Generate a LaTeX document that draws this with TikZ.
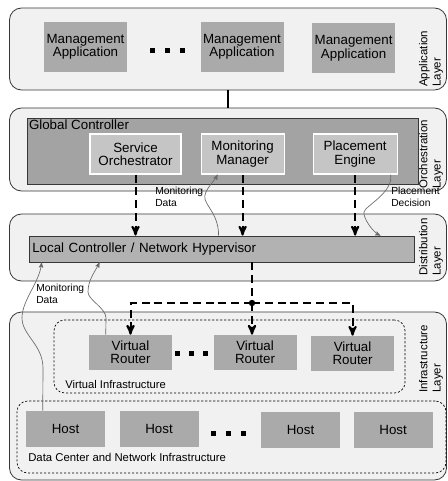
\documentclass[tikz,border=0pt]{standalone}
\usepackage{fontspec}
\setmainfont{Liberation Sans}
\usetikzlibrary{positioning, calc}
\usetikzlibrary{arrows}

\begin{document}
\begin{tikzpicture}[x=0.75pt, y=-0.75pt, >=stealth', align=center,
        font=\fontsize{10}{10}\selectfont,
        layer/.style={draw=layerdraw, fill=layerfill, rounded corners=9pt, line width=0.6pt, minimum width=327.75pt, inner sep=0pt},
        graybox/.style={fill=boxgray, inner sep=0pt},
        subbox/.style={fill=subgray, draw=white, line width=0.8pt, minimum width=62.25pt, minimum height=30pt, inner sep=0pt},
        region/.style={draw, rounded corners=8pt, line width=0.5pt, dash pattern=on 1.6pt off 1.4pt, inner sep=0pt},
        layername/.style={rotate=90, anchor=west, align=left, inner sep=0pt, font=\fontsize{8.6}{9.8}\selectfont},
        note/.style={anchor=north west, align=left, inner sep=0pt, font=\fontsize{7.7}{8.6}\selectfont},
        bus/.style={line width=1.5pt, dash pattern=on 6pt off 3.6pt},
        feedback/.style={->, draw=curvegray, line width=0.5pt}]
        % Define colors
        \definecolor{layerfill}{RGB}{241,241,241}
        \definecolor{layerdraw}{RGB}{55,55,55}
        \definecolor{boxgray}{RGB}{170,170,170}
        \definecolor{ctrlgray}{RGB}{163,163,163}
        \definecolor{subgray}{RGB}{197,197,197}
        \definecolor{lcgray}{RGB}{178,178,178}
        \definecolor{curvegray}{RGB}{105,105,105}

        \useasboundingbox (0,0) rectangle (447,481);

        % Layers
        \node[layer, minimum height=61.5pt] (apl) at (228,49) {};
        \node[layer, minimum height=62.25pt] (orl) at (228,149.5) {};
        \node[layer, minimum height=50.25pt] (dil) at (228,247.5) {};
        \node[layer, minimum height=126pt] (inl) at (228,396) {};

        \node[layername] (aplname) at (431,87) {Application\\Layer};
        \node[layername] (orlname) at (431,189) {Orchestration\\Layer};
        \node[layername] (dilname) at (431,276) {Distribution\\Layer};
        \node[layername] (inlname) at (431,393) {Infrastructure\\Layer};

        % Application layer
        \node[graybox, minimum width=62.25pt, minimum height=37.5pt] (app1) at (85.5,47) {Management\\Application};
        \node[graybox, minimum width=62.25pt, minimum height=37.5pt, right=54.75pt of app1] (app2) {Management\\Application};
        \node[graybox, minimum width=62.25pt, minimum height=37.5pt, right=21pt of app2, yshift=-1pt] (app3) {Management\\Application};
        \foreach \dx in {25,40,55} {
            \fill ($(app1.east)+(\dx,4)$) +(-2.5,-2.5) rectangle +(2.5,2.5);
        }

        % Orchestration layer
        \node[draw=layerdraw, fill=ctrlgray, line width=0.6pt, minimum width=293.25pt, minimum height=49.5pt] (gc) at (222.5,151) {};
        \node[anchor=north west, inner sep=1.6pt] (gcname) at (gc.north west) {Global Controller};
        \node[subbox, minimum width=68.25pt] (so) at (135.5,154) {Service\\Orchestrator};
        \node[subbox, right=14.25pt of so] (mm) {Monitoring\\Manager};
        \node[subbox, minimum width=63pt, right=21pt of mm] (pe) {Placement\\Engine};

        % Distribution layer
        \node[draw=layerdraw, fill=lcgray, line width=0.6pt, minimum width=288.75pt, minimum height=19.5pt, inner xsep=2.5pt, text width=283.75pt, align=left] (lc) at (221.5,249) {Local Controller / Network Hypervisor};

        % Infrastructure layer
        \node[region, minimum width=263.25pt, minimum height=54.75pt] (vi) at (229.5,356.5) {};
        \node[anchor=west, inner sep=0pt, font=\fontsize{8.4}{9}\selectfont] (viname) at (65,384) {Virtual Infrastructure};
        \node[graybox, minimum width=62.25pt, minimum height=26.25pt] (vr1) at (130.5,352.5) {Virtual\\Router};
        \node[graybox, minimum width=62.25pt, minimum height=26.25pt, right=30.75pt of vr1] (vr2) {Virtual\\Router};
        \node[graybox, minimum width=62.25pt, minimum height=26.25pt, right=10.5pt of vr2, yshift=-0.75pt] (vr3) {Virtual\\Router};
        \foreach \dx in {5,19,33} {
            \fill ($(vr1.east)+(\dx,1)$) +(-2.5,-2.5) rectangle +(2.5,2.5);
        }

        \node[region, minimum width=321.75pt, minimum height=54pt] (dc) at (231.5,437) {};
        \node[anchor=west, inner sep=0pt, font=\fontsize{8.5}{9}\selectfont] (dcname) at (28,457) {Data Center and Network Infrastructure};
        \node[graybox, minimum width=59.25pt, minimum height=27pt] (h1) at (65.5,429) {Host};
        \node[graybox, minimum width=59.25pt, minimum height=27pt, right=10.5pt of h1] (h2) {Host};
        \node[graybox, minimum width=59.25pt, minimum height=27pt, right=46.5pt of h2, yshift=-0.75pt] (h3) {Host};
        \node[graybox, minimum width=59.25pt, minimum height=27pt, right=9.75pt of h3] (h4) {Host};
        \foreach \dx in {15,30,45} {
            \fill ($(h2.east)+(\dx,4)$) +(-2.5,-2.5) rectangle +(2.5,2.5);
        }

        % Edges
        \draw[line width=0.8pt] (apl.south) -- (orl.north);
        \foreach \src in {so,mm,pe} {
            \draw[bus, ->] (\src.south) -- (\src.south |- lc.north);
        }
        \coordinate (hub) at (252,303);
        \draw[bus] (lc.south -| hub) -- (hub);
        \draw[bus, ->] (hub) -| (vr1.north);
        \draw[bus, ->] (hub) -| (vr3.north);
        \draw[bus, ->] (hub) -- (hub |- vr2.north);
        \fill (hub) circle (2.4pt);

        % Monitoring and placement feedback
        \draw[feedback] ($(lc.north west)+(190,0)$) .. controls +(0,-20) and +(2,8) .. (205,199) .. controls +(-2,-8) and +(-4,8) .. ($(mm.south west)+(17,0)$);
        \node[note] (mdata1) at (155,187) {Monitoring\\Data};
        \draw[feedback] ($(pe.south east)+(-7,0)$) .. controls +(3,18) and +(1,-6) .. (364,212) .. controls +(-1,6) and +(-8,-4) .. ($(lc.north east)+(-34,0)$);
        \node[note] (pdec) at (391,187) {Placement\\Decision};
        \draw[feedback] ($(h1.north west)+(17,0)$) -- (43,368) .. controls +(0,-23) and +(0,17) .. (22,318) .. controls +(0,-18) and +(-2,20) .. ($(lc.south west)+(13,0)$);
        \draw[feedback] ($(vr1.north west)+(17,0)$) -- (106,318) .. controls +(0,-10) and +(0,8) .. (88,292) .. controls +(0,-12) and +(-5,10) .. ($(lc.south west)+(71,0)$);
        \node[note] (mdata2) at (36,284) {Monitoring\\Data};
    \end{tikzpicture}
\end{document}
